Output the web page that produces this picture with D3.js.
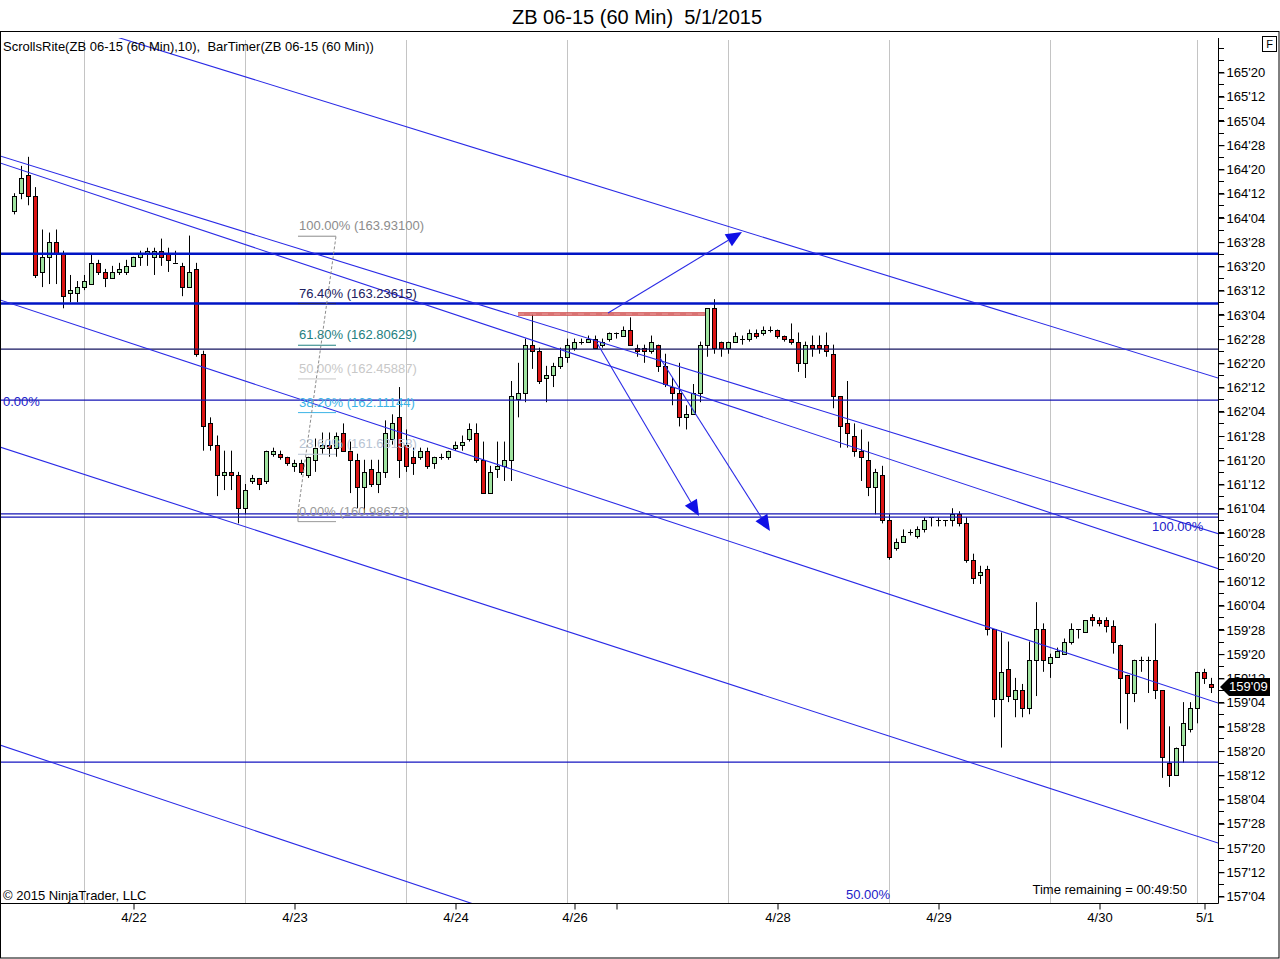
<!DOCTYPE html>
<html><head><meta charset="utf-8">
<script src="https://cdn.jsdelivr.net/npm/d3@7/dist/d3.min.js"></script>
<style>
body{margin:0;background:#fff}
svg{display:block}
text{font-family:"Liberation Sans",Arial,sans-serif;white-space:pre}
</style></head>
<body><svg id="c" width="1280" height="959"></svg>
<script>
// ---- DATA (prices in 32nds above BASE'00) ----
const BASE = 157;
const open32  = [230,236,242,235,210,215,220,216,203,203,205,206,213,210,208,210,210,212,215,216,215,217,216,213,212,205,211,183,160,153,143,144,143,132,141,142,141,150,150,149,146,147,143,148,152,153,152,157,151,148,139,145,140,144,155,162,153,149,149,151,147,149,149,152,153,155,157,148,137,145,146,148,168,170,186,184,175,176,179,182,185,187,187,188,186,188,190,189,191,185,185,184,186,179,172,170,162,163,170,186,198,187,185,187,188,188,190,190,191,191,189,188,187,180,186,186,186,183,169,160,156,151,148,139,143,128,119,121,124,123,125,129,128,128,128,130,127,115,110,112,92,69,79,69,72,66,82,92,81,83,84,88,92,91,96,95,95,93,87,77,71,82,82,82,72,48,44,54,59,66,78,74];
const high32  = [236,245,248,238,224,223,224,217,209,207,209,216,214,211,212,213,214,215,217,218,218,221,218,217,213,222,213,184,162,156,151,151,144,140,143,142,151,152,151,149,148,148,149,155,157,157,157,160,154,150,148,148,148,161,163,172,158,152,152,152,149,150,151,154,156,160,160,154,146,154,154,174,180,188,196,185,179,180,185,188,188,188,189,189,188,190,190,192,195,186,186,189,186,183,175,180,166,173,187,198,201,187,187,190,189,191,191,192,192,191,189,193,190,187,189,189,190,186,169,174,160,158,154,145,146,130,122,125,125,126,129,129,129,128,132,131,129,117,113,113,92,91,88,76,74,88,101,94,84,86,89,94,92,95,97,96,96,95,87,77,82,83,83,94,72,60,53,68,68,78,79,76];
const low32   = [229,234,232,208,205,206,206,198,200,200,204,206,209,205,208,209,209,212,212,212,209,212,210,213,202,205,182,151,151,136,138,138,127,130,140,138,140,149,148,146,144,143,142,144,150,149,149,151,137,132,130,139,137,142,153,142,144,143,148,145,145,148,148,151,151,154,147,137,137,142,141,141,162,167,178,173,167,172,178,180,184,186,187,185,185,187,188,189,186,182,180,183,177,172,166,159,158,163,167,182,183,182,183,187,186,187,188,189,190,188,187,186,177,175,182,183,182,165,152,152,149,141,136,130,127,115,118,121,123,122,124,126,126,126,126,126,114,107,107,90,63,53,68,63,63,64,70,78,76,83,84,87,89,91,93,93,91,84,61,59,68,78,71,69,43,40,44,48,58,61,74,71];
const close32 = [235,241,235,209,215,220,216,202,204,205,207,213,210,208,210,211,212,215,216,217,217,215,214,213,205,210,183,159,153,143,144,143,132,138,142,140,151,151,149,147,147,144,149,152,153,152,156,151,148,139,144,140,144,157,160,148,146,147,151,146,149,149,151,153,154,158,148,137,144,146,148,169,170,186,184,174,176,179,182,186,187,187,188,185,187,190,190,191,186,184,184,187,179,173,170,162,163,170,186,198,185,185,187,189,188,190,189,191,191,189,188,187,180,186,185,185,184,169,159,157,151,149,139,144,128,116,121,123,124,125,128,129,128,128,130,127,115,109,111,92,69,78,70,72,66,82,92,82,83,85,88,92,92,95,95,94,93,88,76,71,82,82,82,72,50,44,53,61,66,78,76,73];

// x-axis: bar indices of date labels and session grid lines
const xTickIdx    = [17, 40, 63, 80, 86, 109, 132, 155, 170];
const xTickLabels = ["4/22","4/23","4/24","4/26","","4/28","4/29","4/30","5/1"];
const gridIdx     = [10, 33, 56, 79, 102, 125, 148, 169];

// y-axis ticks (in 32nds above BASE'00): labels every 8/32, minor every 4/32
const yTickStart = 4, yTickEnd = 276, yTickStep = 8;

// horizontal drawn lines (prices)
const hLinePrices = [163.75, 163.23615, 162.766, 162.24, 161.066, 161.034, 158.507];
// diagonal drawn lines: [barIdx1, price1, barIdx2, price2]
const trendLines = [
  [0,166.314, 172,162.468],
  [0,164.714, 172,160.863],
  [0,164.639, 172,160.502],
  [0,163.226, 172,159.116],
  [0,161.709, 172,157.672],
  [0,158.634, 172,154.463]
];
// arrows: [barIdx from, price from, barIdx to, price to]
const arrows = [
  [84.86,163.139, 104,163.975],
  [83.29,162.829, 97.86,161.045],
  [92.29,162.675, 108,160.89]
];
// red marker line: [barIdx1, barIdx2, price]
const redLine = [72, 98.7, 163.128];
// Fibonacci retracement
const fibLow = 160.98673, fibHigh = 163.931;
const fibIdx = [40.57, 46];
const fibRatios = [1, 0.764, 0.618, 0.5, 0.382, 0.236, 0];
const currentPrice32 = 73;

// ---- DRAWING ----
const P = n => BASE + n/32;
const fmt32 = p => { const w = Math.floor(p + 1e-9); const f = Math.round((p - w)*32); return w + "'" + String(f).padStart(2,"0"); };
const svg = d3.select("#c");
const x = d3.scaleLinear().domain([0,172]).range([14,1218]);
const y = d3.scaleLinear().domain([157.125,165.625]).range([896,72]);
const PL=1, PR=1218, PT=38, PB=903;
const FS = 13;

svg.append("rect").attr("x",0).attr("y",0).attr("width",1280).attr("height",959).attr("fill","#fff");
svg.append("defs").append("clipPath").attr("id","plot").append("rect")
  .attr("x",PL).attr("y",PT).attr("width",PR-PL).attr("height",PB-PT);

// title
svg.append("text").attr("x",637).attr("y",24).attr("text-anchor","middle")
  .attr("font-size",20).attr("fill","#000").text("ZB 06-15 (60 Min)  5/1/2015");

// outer frame
svg.append("rect").attr("x",0.5).attr("y",31.5).attr("width",1278.5).attr("height",926.5)
  .attr("fill","none").attr("stroke","#000");

const plot = svg.append("g").attr("clip-path","url(#plot)");

// grid
plot.selectAll(".grid").data(gridIdx).join("line")
  .attr("x1",d=>Math.round(x(d))+0.5).attr("x2",d=>Math.round(x(d))+0.5)
  .attr("y1",40).attr("y2",PB).attr("stroke","#c4c4c4").attr("stroke-width",1);

// candles
const bars = open32.map((o,i)=>({i, o:P(o), h:P(high32[i]), l:P(low32[i]), c:P(close32[i])}));
const cg = plot.append("g");
bars.forEach(d=>{
  const cx = Math.round(x(d.i));
  cg.append("line").attr("x1",cx+0.5).attr("x2",cx+0.5)
    .attr("y1",y(d.h)).attr("y2",y(d.l)).attr("stroke","#000").attr("stroke-width",1);
  if (d.o === d.c) {
    const yy = Math.round(y(d.o))+0.5;
    cg.append("line").attr("x1",cx-2).attr("x2",cx+3).attr("y1",yy).attr("y2",yy)
      .attr("stroke","#000").attr("stroke-width",1);
  } else {
    const t = Math.round(y(Math.max(d.o,d.c)))+0.5, b = Math.round(y(Math.min(d.o,d.c)))+0.5;
    cg.append("rect").attr("x",cx-1.5).attr("y",t).attr("width",4).attr("height",Math.max(1,b-t))
      .attr("fill", d.c > d.o ? "#9fe39f" : "#dc1414").attr("stroke","#000").attr("stroke-width",1);
  }
});

// horizontal lines
const hW = [2.5,2.5,1.2,1.2,1.2,1.2,1.2];
const hC = ["#0014c4","#0014c4","#141460","#1414b4","#1414b4","#1414b4","#1414c0"];
plot.selectAll(".hl").data(hLinePrices).join("line")
  .attr("x1",PL).attr("x2",PR).attr("y1",d=>y(d)).attr("y2",d=>y(d))
  .attr("stroke",(d,i)=>hC[i]).attr("stroke-width",(d,i)=>hW[i]);

// trend lines, extended across the whole plot
const ext = (d, t) => d[1] + (d[3]-d[1])*(t-d[0])/(d[2]-d[0]);
const t0 = x.invert(PL-2), t1 = x.invert(PR+2);
plot.selectAll(".tl").data(trendLines).join("line")
  .attr("x1",x(t0)).attr("y1",d=>y(ext(d,t0))).attr("x2",x(t1)).attr("y2",d=>y(ext(d,t1)))
  .attr("stroke","#2a2ae6").attr("stroke-width",1.1);

// red line
plot.append("line").attr("x1",x(redLine[0])).attr("x2",x(redLine[1]))
  .attr("y1",y(redLine[2])).attr("y2",y(redLine[2]))
  .attr("stroke","#d05050").attr("stroke-opacity",0.8).attr("stroke-width",4);
plot.append("line").attr("x1",x(redLine[0])).attr("x2",x(redLine[1]))
  .attr("y1",y(redLine[2])).attr("y2",y(redLine[2]))
  .attr("stroke","#f0b0b0").attr("stroke-opacity",0.6).attr("stroke-width",1).attr("stroke-dasharray","6,6");

// arrows
arrows.forEach(a=>{
  const x1=x(a[0]), y1=y(a[1]), x2=x(a[2]), y2=y(a[3]);
  const ang = Math.atan2(y2-y1, x2-x1), L=16, Wd=7;
  const bx = x2 - L*Math.cos(ang), by = y2 - L*Math.sin(ang);
  plot.append("line").attr("x1",x1).attr("y1",y1).attr("x2",bx).attr("y2",by)
    .attr("stroke","#2a2ae6").attr("stroke-width",1.1);
  const px = -Math.sin(ang)*Wd, py = Math.cos(ang)*Wd;
  plot.append("path").attr("d",`M${x2},${y2}L${bx+px},${by+py}L${bx-px},${by-py}Z`).attr("fill","#1010e6");
});

// fibonacci
const fibColors = ["#8c8c8c","#202060","#1e8080","#c8c8c8","#3cb4e6","#b8c4d4","#9a9a9a"];
const fx1 = x(fibIdx[0]), fx2 = x(fibIdx[1]);
fibRatios.forEach((r,k)=>{
  const p = fibLow + r*(fibHigh-fibLow);
  const yy = y(p);
  plot.append("line").attr("x1",fx1).attr("x2",fx2).attr("y1",yy).attr("y2",yy)
    .attr("stroke",fibColors[k]).attr("stroke-width",1);
  plot.append("text").attr("x",fx1+1).attr("y",yy-6).attr("font-size",FS)
    .attr("fill",fibColors[k]).text((r*100).toFixed(2)+"% ("+p.toFixed(5)+")");
});
plot.append("line").attr("x1",fx1).attr("x2",fx1).attr("y1",y(fibLow)).attr("y2",y(fibLow+0.1))
  .attr("stroke","#8c8c8c");
plot.append("line").attr("x1",fx1).attr("y1",y(fibLow+0.1)).attr("x2",fx2).attr("y2",y(fibHigh))
  .attr("stroke","#8c8c8c").attr("stroke-dasharray","3,2");

// blue percentage texts
plot.append("text").attr("x",3).attr("y",406).attr("font-size",FS).attr("fill","#2020c8").text("0.00%");
plot.append("text").attr("x",1152).attr("y",531).attr("font-size",FS).attr("fill","#2020c8").text("100.00%");
plot.append("text").attr("x",846).attr("y",899).attr("font-size",FS).attr("fill","#2020c8").text("50.00%");

// legend / footer texts
svg.append("text").attr("x",3).attr("y",51).attr("font-size",FS).attr("fill","#000")
  .text("ScrollsRite(ZB 06-15 (60 Min),10),  BarTimer(ZB 06-15 (60 Min))");
svg.append("text").attr("x",3).attr("y",900).attr("font-size",FS).attr("fill","#000").text("© 2015 NinjaTrader, LLC");
svg.append("text").attr("x",1187).attr("y",894).attr("text-anchor","end").attr("font-size",FS).attr("fill","#000")
  .text("Time remaining = 00:49:50");

// x axis
svg.append("line").attr("x1",0).attr("x2",PR+0.5).attr("y1",PB+0.5).attr("y2",PB+0.5).attr("stroke","#000");
const xAxis = d3.axisBottom(x).tickValues(xTickIdx).tickFormat((d,i)=>xTickLabels[i]).tickSizeInner(6).tickSizeOuter(0).tickPadding(3);
const gx = svg.append("g").attr("transform",`translate(0.5,${PB+0.5})`).call(xAxis);
gx.select(".domain").remove();
gx.selectAll("text").attr("font-size",FS).attr("fill","#000").attr("font-family","Liberation Sans, Arial, sans-serif");

// y axis
svg.append("line").attr("x1",PR+0.5).attr("x2",PR+0.5).attr("y1",38).attr("y2",PB+0.5).attr("stroke","#000");
const majors = d3.range(yTickStart, yTickEnd+1, yTickStep).map(P);
const minors = d3.range(yTickStart-4, yTickEnd+9, 4).map(P).filter(p=>y(p)>=40 && y(p)<=PB);
svg.selectAll(".ymin").data(minors).join("line")
  .attr("x1",PR).attr("x2",PR+6).attr("y1",d=>Math.round(y(d))+0.5).attr("y2",d=>Math.round(y(d))+0.5)
  .attr("stroke","#000");
const yAxis = d3.axisRight(y).tickValues(majors).tickFormat(fmt32).tickSize(6).tickPadding(2);
const gy = svg.append("g").attr("transform",`translate(${PR+0.5},0.5)`).call(yAxis);
gy.select(".domain").remove();
gy.selectAll("text").attr("font-size",FS).attr("fill","#000").attr("font-family","Liberation Sans, Arial, sans-serif");

// current price marker
const cy = y(P(currentPrice32));
svg.append("path").attr("d",`M${PR+2},${cy}L${PR+11},${cy-9}L1270,${cy-9}L1270,${cy+9}L${PR+11},${cy+9}Z`).attr("fill","#000");
svg.append("text").attr("x",1229).attr("y",cy+4.5).attr("font-size",FS).attr("fill","#fff").text(fmt32(P(currentPrice32)));

// F box
svg.append("rect").attr("x",1262.5).attr("y",36.5).attr("width",14).attr("height",15).attr("fill","#fff").attr("stroke","#000");
svg.append("text").attr("x",1269.5).attr("y",48).attr("text-anchor","middle").attr("font-size",11).attr("fill","#000").text("F");
</script>
</body></html>
